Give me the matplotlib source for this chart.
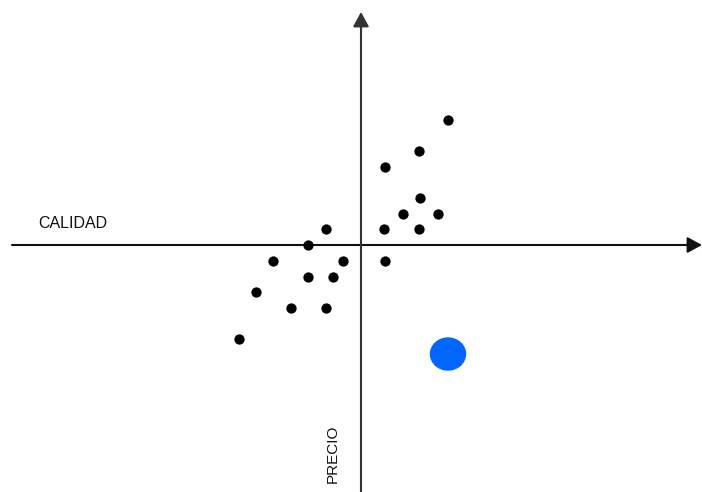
import matplotlib.pyplot as plt
from matplotlib.patches import Ellipse

# quadrant positions of the competitors (origin = axes crossing)
calidad = [87, 58, 24, 59, 42, 77, 23, 58, -35, -53, -88, -18, 24, -53, -28, -105, -70, -35, -122]
precio = [125, 94, 78, 47, 31, 31, 16, 16, 16, 0, -16, -16, -16, -32, -32, -47, -63, -63, -94]
propia = (87, -109)

fig = plt.figure(figsize=(7.02, 4.92), dpi=100)
ax = fig.add_axes([0, 0, 1, 1])
ax.set_xlim(-361, 341)
ax.set_ylim(-247, 245)
ax.axis('off')

arrow_style = dict(arrowstyle='-|>,head_length=0.55,head_width=0.3', mutation_scale=16,
                   shrinkA=0, shrinkB=0, lw=1.5)
ax.annotate('', xy=(341, 0), xytext=(-349, 0),
            arrowprops=dict(color='#111111', **arrow_style))
ax.annotate('', xy=(0, 233), xytext=(0, -247),
            arrowprops=dict(color='#333333', **arrow_style))

ax.scatter(calidad, precio, s=55, color='black', zorder=3, linewidths=0)
ax.add_patch(Ellipse(propia, 35, 32, color='#0066ff', zorder=3))

ax.text(-288, 22, 'CALIDAD', fontsize=11.5, family='Liberation Sans', color='#111111',
        ha='center', va='center')
ax.text(-28, -209, 'PRECIO', fontsize=11, family='Liberation Sans', color='#111111',
        ha='center', va='center', rotation=90)

fig.savefig('out.png', dpi=100)
